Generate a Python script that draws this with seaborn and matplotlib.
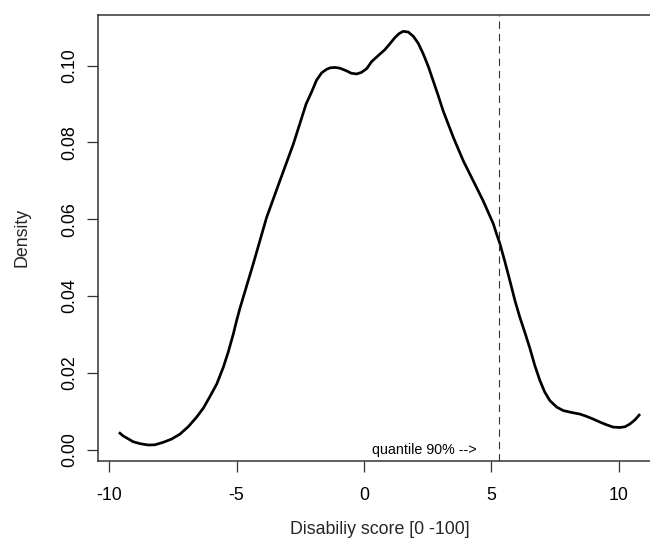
import matplotlib
matplotlib.use("Agg")
import matplotlib.pyplot as plt
import seaborn as sns
import pandas as pd

# Kernel density estimate of the disability score
score = [-9.62, -9.45, -9.06, -8.79, -8.47, -8.21, -7.88, -7.55, -7.22, -6.90,
         -6.57, -6.31, -6.06, -5.78, -5.52, -5.33, -5.13, -5.00, -4.87, -4.35,
         -3.82, -3.30, -2.77, -2.27, -2.05, -1.86, -1.66, -1.47, -1.33, -1.14,
         -0.94, -0.68, -0.50, -0.29, -0.10, 0.11, 0.30, 0.63, 0.82, 1.01,
         1.22, 1.38, 1.54, 1.74, 1.94, 2.13, 2.33, 2.53, 2.72, 2.92,
         3.11, 3.51, 3.90, 4.29, 4.68, 5.08, 5.19, 5.34, 5.54, 5.73,
         5.93, 6.12, 6.32, 6.52, 6.71, 6.91, 7.10, 7.30, 7.57, 7.83,
         8.16, 8.48, 8.74, 9.00, 9.27, 9.53, 9.79, 10.05, 10.25, 10.44,
         10.64, 10.84]
density = [0.00455, 0.0036, 0.0021, 0.0016, 0.00125, 0.0013, 0.00195, 0.0028,
           0.0041, 0.0060, 0.0085, 0.0108, 0.0137, 0.0171, 0.0215, 0.0254,
           0.0301, 0.0336, 0.0368, 0.0483, 0.0605, 0.0700, 0.0796, 0.0900,
           0.0932, 0.0962, 0.0981, 0.0990, 0.0994, 0.0995, 0.0993, 0.0986,
           0.0980, 0.0978, 0.0982, 0.0992, 0.1010, 0.1030, 0.1041, 0.1056,
           0.1073, 0.1083, 0.1089, 0.1087, 0.1076, 0.1058, 0.1030, 0.0997,
           0.0960, 0.0921, 0.0882, 0.0813, 0.0752, 0.0700, 0.0648, 0.0588,
           0.0565, 0.0536, 0.0488, 0.0440, 0.0388, 0.0345, 0.0305, 0.0263,
           0.0219, 0.0180, 0.0150, 0.0128, 0.0111, 0.0102, 0.0097, 0.0093,
           0.0087, 0.0080, 0.0072, 0.0065, 0.0059, 0.0058, 0.0060, 0.0067,
           0.0078, 0.0093]
quantile_90 = 5.31
x_ticks = [-10, -5, 0, 5, 10]
y_ticks = [0.00, 0.02, 0.04, 0.06, 0.08, 0.10]

df = pd.DataFrame({"score": score, "density": density})

sns.set_style("ticks")
plt.rcParams["font.family"] = ["Liberation Sans", "DejaVu Sans"]
plt.rcParams["lines.scale_dashes"] = False

fig = plt.figure(figsize=(6.5, 5.49), dpi=100)
ax = fig.add_axes([0.1512, 0.1608, 0.8664, 0.8124])

sns.lineplot(data=df, x="score", y="density", color="black",
             linewidth=1.95, ax=ax, solid_joinstyle="round",
             solid_capstyle="butt")

ax.axvline(quantile_90, color="#333333", linewidth=0.8, dashes=(5.3, 3.6))
ax.annotate("quantile 90% -->", xy=(quantile_90, 0.0), xytext=(-16.3, 0),
            textcoords="offset points", ha="right", va="center",
            fontsize=10.3, color="black")

ax.set_xlim(-10.43, 11.68)
ax.set_ylim(-0.00284, 0.11322)
ax.set_xticks(x_ticks)
ax.set_xticklabels([str(t) for t in x_ticks])
ax.set_yticks(y_ticks)
ax.set_yticklabels([f"{t:.2f}" for t in y_ticks])

ax.tick_params(axis="both", direction="out", length=8, width=0.9,
               color="#333333", labelsize=12.8, labelcolor="black")
ax.tick_params(axis="x", pad=11)
ax.tick_params(axis="y", pad=6.5)
for lbl in ax.get_yticklabels():
    lbl.set_rotation(90)
    lbl.set_va("center")

for side in ["left", "bottom", "top", "right"]:
    ax.spines[side].set_visible(True)
    ax.spines[side].set_color("#333333")
    ax.spines[side].set_linewidth(1.1)

ax.set_xlabel("Disabiliy score [0 -100]", fontsize=12.8)
ax.set_ylabel("Density", fontsize=12.8)
ax.xaxis.label.set(va="center", rotation_mode="anchor")
ax.yaxis.label.set(va="center", rotation_mode="anchor")
ax.xaxis.set_label_coords(0.5, -0.1531)
ax.yaxis.set_label_coords(-0.1355, 0.5004)

fig.savefig("out.png", dpi=100, facecolor="white")
